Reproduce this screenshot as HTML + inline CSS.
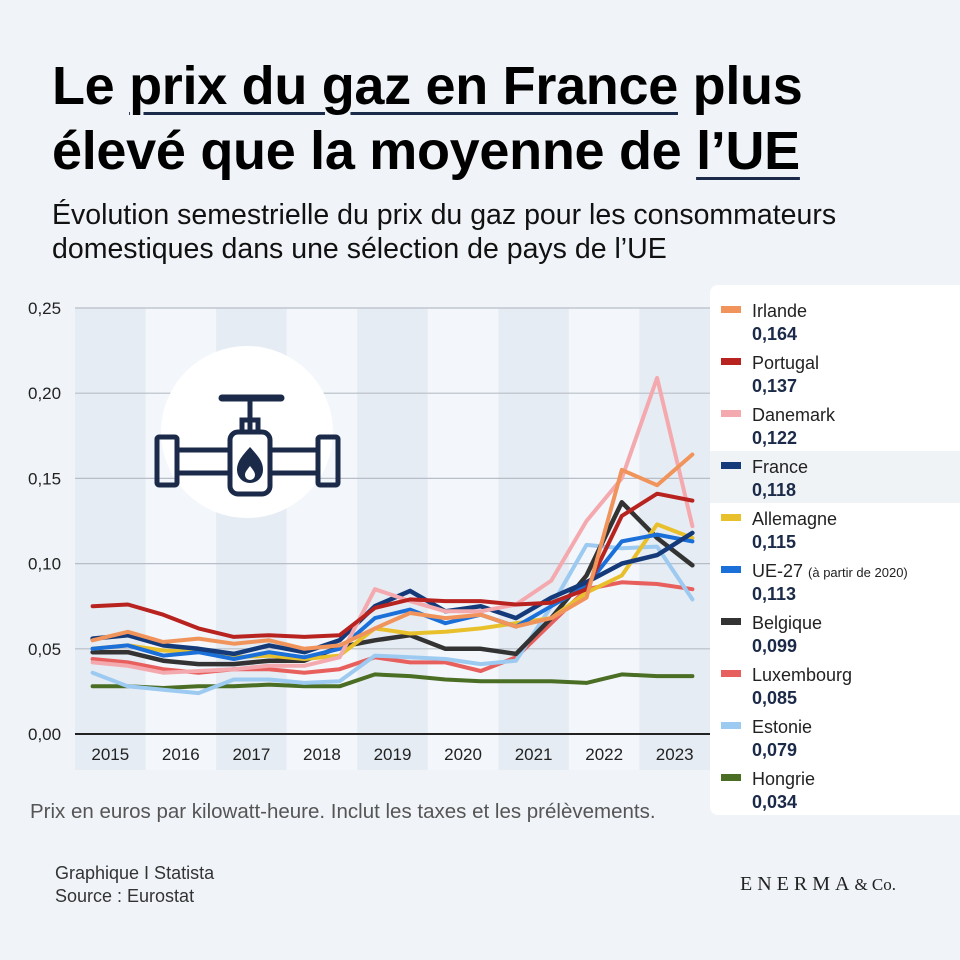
<!DOCTYPE html>
<html><head><meta charset="utf-8">
<style>
body{margin:0;width:960px;height:960px;background:#f0f4f8;font-family:"Liberation Sans",sans-serif;overflow:hidden;position:relative}
.t{position:absolute;left:52px;font-weight:bold;font-size:54px;color:#000;letter-spacing:-0.3px;white-space:nowrap}
.u{text-decoration:underline;text-decoration-color:#1b2a48;text-decoration-thickness:3px;text-underline-offset:8px}
.sub{position:absolute;left:52px;font-size:28.5px;color:#111;white-space:nowrap}
</style></head><body>
<div class="t" style="top:55px">Le <span class="u">prix du gaz en France</span> plus</div>
<div class="t" style="top:120px">élevé que la moyenne de <span class="u">l’UE</span></div>
<div class="sub" style="top:199px">Évolution semestrielle du prix du gaz pour les consommateurs</div>
<div class="sub" style="top:233px">domestiques dans une sélection de pays de l’UE</div>
<svg id="chart" width="960" height="960" style="position:absolute;left:0;top:0"></svg>
<div style="position:absolute;left:30px;top:800px;font-size:20.5px;color:#555;white-space:nowrap">Prix en euros par kilowatt-heure. Inclut les taxes et les prélèvements.</div>
<div style="position:absolute;left:55px;top:862px;font-size:18px;color:#333;line-height:23px">Graphique I Statista<br>Source : Eurostat</div>
<div style="position:absolute;left:740px;top:873px;font-family:'Liberation Serif',serif;font-size:20px;letter-spacing:5px;color:#222;white-space:nowrap">ENERMA<span style="letter-spacing:0;font-size:17px">&amp; Co.</span></div>
<script>
const years=["2015","2016","2017","2018","2019","2020","2021","2022","2023"];
const yTicks=[0,0.05,0.10,0.15,0.20,0.25];
const names=["Irlande","Portugal","Danemark","France","Allemagne","UE-27","Belgique","Luxembourg","Estonie","Hongrie"];
const colors=["#f0945c","#b8231f","#f4a9ae","#143a7a","#e8c02c","#1a6fd8","#333333","#e8605e","#9dcaf0","#4a6e24"];
const lastLabels=["0,164","0,137","0,122","0,118","0,115","0,113","0,099","0,085","0,079","0,034"];
const irlande=[0.055,0.060,0.054,0.056,0.053,0.055,0.050,0.052,0.062,0.071,0.068,0.070,0.063,0.068,0.080,0.155,0.146,0.164];
const portugal=[0.075,0.076,0.070,0.062,0.057,0.058,0.057,0.058,0.074,0.079,0.078,0.078,0.076,0.077,0.085,0.128,0.141,0.137];
const danemark=[0.042,0.040,0.036,0.037,0.038,0.040,0.040,0.045,0.085,0.078,0.072,0.072,0.076,0.090,0.125,0.150,0.209,0.122];
const france=[0.056,0.058,0.052,0.050,0.047,0.052,0.048,0.055,0.075,0.084,0.072,0.075,0.068,0.080,0.089,0.100,0.105,0.118];
const allemagne=[0.050,0.052,0.049,0.048,0.045,0.046,0.044,0.046,0.062,0.059,0.060,0.062,0.065,0.068,0.083,0.093,0.123,0.115];
const ue27=[0.050,0.052,0.046,0.048,0.044,0.048,0.045,0.050,0.068,0.073,0.065,0.070,0.063,0.075,0.087,0.113,0.117,0.113];
const belgique=[0.048,0.048,0.043,0.041,0.041,0.043,0.043,0.051,0.055,0.058,0.050,0.050,0.047,0.068,0.093,0.136,0.115,0.099];
const luxembourg=[0.044,0.042,0.038,0.036,0.038,0.038,0.036,0.038,0.045,0.042,0.042,0.037,0.045,0.065,0.085,0.089,0.088,0.085];
const estonie=[0.036,0.028,0.026,0.024,0.032,0.032,0.030,0.031,0.046,0.045,0.044,0.041,0.043,0.075,0.111,0.109,0.110,0.079];
const hongrie=[0.028,0.028,0.027,0.028,0.028,0.029,0.028,0.028,0.035,0.034,0.032,0.031,0.031,0.031,0.030,0.035,0.034,0.034];
const series=[irlande,portugal,danemark,france,allemagne,ue27,belgique,luxembourg,estonie,hongrie];
const drawOrder=[9,7,8,6,4,5,3,2,1,0];

const NS="http://www.w3.org/2000/svg",svg=document.getElementById('chart');
const X0=75,X1=710,Y0=734,Y1=308,N=18;
const step=(X1-X0)/N;
const x=i=>X0+step*(i+0.5);
const y=v=>Y0-(v/0.25)*(Y0-Y1);
function mk(t,a){const e=document.createElementNS(NS,t);for(const k in a)e.setAttribute(k,a[k]);svg.appendChild(e);return e;}
years.forEach((yr,j)=>{
  const b=mk('rect',{x:X0+j*2*step,y:Y1,width:2*step,height:Y0-Y1+36,fill:j%2?'#f3f6fa':'#e6ecf3'});
  
  
  const t=mk('text',{x:X0+j*2*step+step,y:760,'font-size':17,'text-anchor':'middle',fill:'#222','font-family':'Liberation Sans'});
  t.textContent=yr;
  
  
});
yTicks.forEach(v=>{
  const l=mk('line',{x1:X0,x2:X1,y1:y(v),y2:y(v),stroke:v===0?'#222':'#b8bec8','stroke-width':v===0?2:1.2});
  
  
  const t=mk('text',{x:28,y:y(v)+6,'font-size':17,fill:'#222','font-family':'Liberation Sans'});
  t.textContent=v.toFixed(2).replace('.',',');
  
  
});
const ic=mk('circle',{cx:247,cy:432,r:86,fill:'#fff'});


const g=document.createElementNS(NS,'g');svg.appendChild(g);


g.innerHTML='<g fill="none" stroke="#1b2a48" stroke-width="5"><rect x="157" y="437" width="20" height="48" rx="2"/><rect x="318" y="437" width="20" height="48" rx="2"/><line x1="177" y1="450" x2="230" y2="450"/><line x1="177" y1="473" x2="230" y2="473"/><line x1="268" y1="450" x2="318" y2="450"/><line x1="268" y1="473" x2="318" y2="473"/><rect x="230" y="432" width="40" height="62" rx="8"/><line x1="250" y1="400" x2="250" y2="432"/><rect x="242" y="420" width="16" height="12"/></g><line x1="222" y1="398" x2="281" y2="398" stroke="#1b2a48" stroke-width="7" stroke-linecap="round"/><path d="M250 447 c-9 10 -13 15 -13 23 a13 13 0 0 0 26 0 c0 -8 -4 -13 -13 -23z" fill="#1b2a48"/><path d="M250 466 c-3 4 -5 6 -5 9 a5 5 0 0 0 10 0 c0 -3 -2 -5 -5 -9z" fill="#fff"/>';
drawOrder.forEach(k=>{
  const d=series[k].map((v,i)=>(i?'L':'M')+x(i).toFixed(1)+' '+y(v).toFixed(1)).join(' ');
  const p=mk('path',{d:d,fill:'none',stroke:colors[k],'stroke-width':k===3||k===6?4.5:4,'stroke-linejoin':'round','stroke-linecap':'round'});
  
  
});
const lg=mk('rect',{x:710,y:285,width:270,height:530,rx:8,fill:'#fff'});


const hl=mk('rect',{x:710,y:451,width:250,height:52,fill:'#f0f3f6'});


names.forEach((n,k)=>{
  const ty=317+k*52;
  const s=mk('rect',{x:721,y:ty-11,width:20,height:7,fill:colors[k]});
  
  
  const t=mk('text',{x:752,y:ty,'font-size':18,fill:'#222','font-family':'Liberation Sans'});
  t.textContent=n;
  
  
  if(n==='UE-27'){const s2=mk('tspan',{'font-size':13,dx:5});s2.textContent='(à partir de 2020)';t.appendChild(s2);}
  const v=mk('text',{x:752,y:ty+23,'font-size':18,'font-weight':'bold',fill:'#1b2a48','font-family':'Liberation Sans'});
  v.textContent=lastLabels[k];
  
  
});
</script>
</body></html>
